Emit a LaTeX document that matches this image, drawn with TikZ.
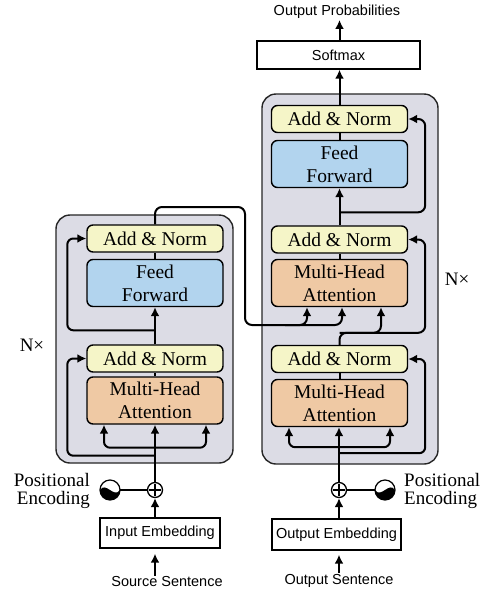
\documentclass[tikz,border=0pt]{standalone}
\usepackage{fontspec}
\setmainfont{Liberation Serif}
\newfontfamily\sansf{Liberation Sans}
\usetikzlibrary{arrows.meta,calc}
\definecolor{outerc}{RGB}{220,220,229}
\definecolor{anc}{RGB}{245,245,200}
\definecolor{ffc}{RGB}{178,212,238}
\definecolor{mhac}{RGB}{239,201,164}
\begin{document}
\begin{tikzpicture}[x=1pt,y=-1pt,
  outerbox/.style={draw=black!85, fill=outerc, line width=1.4pt, rounded corners=14pt, inner sep=0pt},
  blk/.style={draw, line width=1.4pt, rounded corners=6pt, minimum width=136pt, inner sep=0pt, align=center, font=\fontsize{19.5}{23}\selectfont},
  addnorm/.style={blk, fill=anc, minimum height=27pt},
  ffbox/.style={blk, fill=ffc, minimum height=47pt},
  mhabox/.style={blk, fill=mhac, minimum height=47pt},
  sqbox/.style={draw, line width=1.4pt, inner sep=0pt, font=\sansf\fontsize{14.5}{16}\selectfont},
  lbl/.style={font=\sansf\fontsize{14.5}{16}\selectfont, inner sep=1pt},
  serlbl/.style={font=\fontsize{19}{17.5}\selectfont, inner sep=0pt},
  plusc/.style={draw, circle, line width=1.3pt, minimum size=15pt, inner sep=0pt, fill=white,
    path picture={\draw[line width=1.2pt] ($(path picture bounding box.center)+(-6,0)$) -- ($(path picture bounding box.center)+(6,0)$)
      ($(path picture bounding box.center)+(0,-6)$) -- ($(path picture bounding box.center)+(0,6)$);}},
  pec/.style={circle, minimum size=20pt, inner sep=0pt},
  line/.style={line width=2pt},
  conn/.style={line width=2pt, -{Latex[length=9pt,width=9pt]}},
]
\useasboundingbox[fill=white] (0,0) rectangle (494,595);

% outer stacks
\node[outerbox, minimum width=177pt, minimum height=248pt] (enc) at (144.5,339) {};
\node[outerbox, minimum width=176pt, minimum height=370pt] (dec) at (350,279) {};

% encoder blocks
\node[addnorm] (ean1) at (155,238.5) {Add \& Norm};
\node[ffbox]   (eff)  at (155,283) {Feed\\Forward};
\node[addnorm] (ean2) at (155,358.5) {Add \& Norm};
\node[mhabox]  (emha) at (155,400.5) {Multi-Head\\Attention};

% decoder blocks
\node[addnorm] (dan1) at (339.5,119) {Add \& Norm};
\node[ffbox]   (dff)  at (339.5,164) {Feed\\Forward};
\node[addnorm] (dan2) at (339.5,239.5) {Add \& Norm};
\node[mhabox]  (dmha2) at (339.5,283) {Multi-Head\\Attention};
\node[addnorm] (dan3) at (339.5,359) {Add \& Norm};
\node[mhabox]  (dmha1) at (339.5,403) {Multi-Head\\Attention};

% top
\node[sqbox, minimum width=163pt, minimum height=28pt] (soft) at (338.5,55) {Softmax};
\node[lbl] (oprob) at (337,12) {Output Probabilities};

% embeddings
\node[sqbox, minimum width=120pt, minimum height=30pt] (eemb) at (160,533) {Input Embedding};
\node[sqbox, minimum width=129pt, minimum height=31pt] (demb) at (336.5,534.5) {Output Embedding};
\node[lbl] (esrc) at (167,582) {Source Sentence};
\node[lbl] (dsrc) at (339,581) {Output Sentence};

% plus and positional encodings
\node[plusc] (eplus) at (155,490) {};
\node[plusc] (dplus) at (339,490) {};
\node[pec] (epe) at (110,490) {};
\node[pec] (dpe) at (385,490) {};
\begin{scope}[shift={(dpe.center)}]
  \fill[black] (-10,0) .. controls (-4,9) and (4,-9) .. (10,0) arc (0:180:10) -- cycle;
  \draw[line width=1.2pt] (0,0) circle (10);
\end{scope}
\begin{scope}[shift={(epe.center)}, xscale=-1]
  \fill[black] (-10,0) .. controls (-4,9) and (4,-9) .. (10,0) arc (0:180:10) -- cycle;
  \draw[line width=1.2pt] (0,0) circle (10);
\end{scope}
\node[serlbl, anchor=east, align=right] (epelbl) at (90,491) {Positional\\Encoding};
\node[serlbl, anchor=west, align=left] (dpelbl) at (404,491) {Positional\\Encoding};
\node[font=\fontsize{19}{20}\selectfont] (enx) at (32,345) {N×};
\node[font=\fontsize{19}{20}\selectfont] (dnx) at (457,279) {N×};

% ---------- encoder connectors ----------
\draw[line] (epe.east) -- (eplus.west);
\draw[conn] (eplus |- eemb.north) -- (eplus.south);
\draw[conn, shorten >=5pt] (eplus |- esrc.north) -- (eplus |- eemb.south);
\draw[conn] (eplus.north) -- (emha.south -| eplus);
\draw[conn, rounded corners=6pt] ($(emha.south)+(0,23)$) -| ($(emha.south)+(-51,0)$);
\draw[conn, rounded corners=6pt] ($(emha.south)+(0,23)$) -| ($(emha.south)+(51,0)$);
\draw[conn, rounded corners=6pt] ($(emha.south)+(0,31)$) -| ($(ean2.west)+(-19,0)$) -- (ean2.west);
\draw[line] (emha.north) -- (ean2.south);
\draw[conn] (ean2.north) -- (eff.south);
\draw[conn, rounded corners=6pt] ($(ean2.north)+(0,-14)$) -| ($(ean1.west)+(-19,0)$) -- (ean1.west);
\draw[line] (eff.north) -- (ean1.south);
\coordinate (eo1) at (245,207);
\coordinate (eo2) at (245,325);
\draw[conn, rounded corners=7pt] (ean1.north) |- (eo1) -- (eo2) -| ($(dmha2.south)+(-32.5,0)$);
\draw[conn, rounded corners=7pt] ($(eo2)+(40,0)$) -| ($(dmha2.south)+(2.5,0)$);

% ---------- decoder connectors ----------
\draw[line] (dplus.east) -- (dpe.west);
\draw[conn] (dplus |- demb.north) -- (dplus.south);
\draw[conn, shorten >=4pt] (dplus |- dsrc.north) -- (dplus |- demb.south);
\draw[conn] (dplus.north) -- (dmha1.south -| dplus);
\draw[conn, rounded corners=6pt] ($(dmha1.south)+(0,20)$) -| ($(dmha1.south)+(-50.5,0)$);
\draw[conn, rounded corners=6pt] ($(dmha1.south)+(0,20)$) -| ($(dmha1.south)+(50.5,0)$);
\draw[conn, rounded corners=6pt] ($(dmha1.south)+(0,26)$) -| ($(dan3.east)+(17,0)$) -- (dan3.east);
\draw[line] (dmha1.north) -- (dan3.south);
\draw[conn, rounded corners=7pt] (dan3.north) -- ++(0,-12) -| ($(dmha2.south)+(41.5,0)$);
\draw[conn, rounded corners=7pt] ($(dan3.north)+(0,-12)$) -| ($(dan2.east)+(17,0)$) -- (dan2.east);
\draw[line] (dmha2.north) -- (dan2.south);
\draw[conn] (dan2.north) -- (dff.south);
\draw[conn, rounded corners=7pt] ($(dan2.north)+(0,-13)$) -| ($(dan1.east)+(17,0)$) -- (dan1.east);
\draw[line] (dff.north) -- (dan1.south);
\draw[conn] (dan1.north) -- (soft.south -| dan1);
\draw[conn] (soft.north -| dan1) -- (oprob.south -| dan1);
\end{tikzpicture}
\end{document}
